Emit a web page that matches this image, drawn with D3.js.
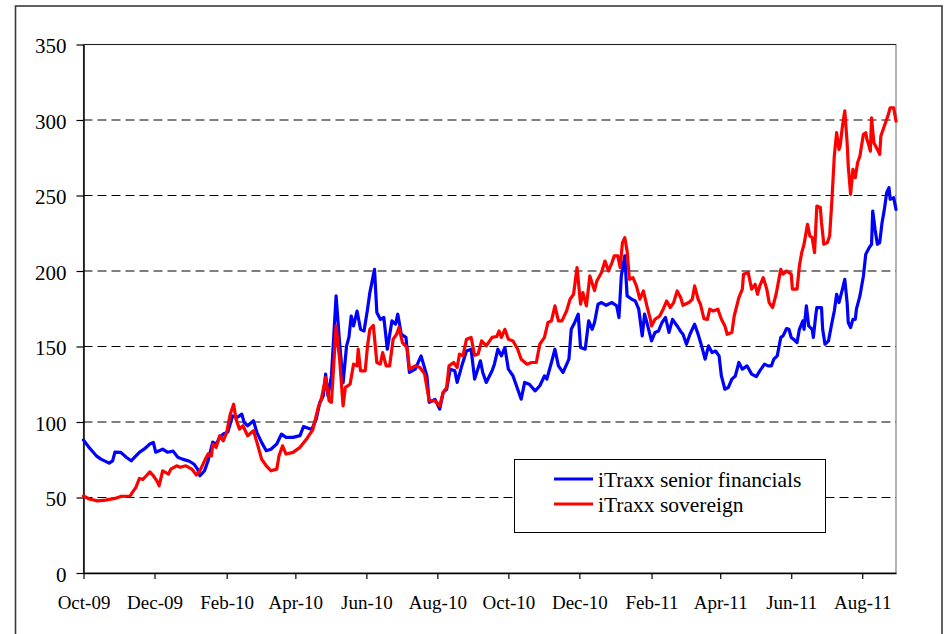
<!DOCTYPE html>
<html><head><meta charset="utf-8">
<script src="https://cdn.jsdelivr.net/npm/d3@7"></script>
<style>html,body{margin:0;padding:0;background:#fff;} svg{display:block;}</style>
</head><body><svg id="chart" width="944" height="634"></svg>
<script>
// ---- DATA ----
const seriesNames = ["iTraxx senior financials", "iTraxx sovereign"];
const seriesColors = ["#0000ff", "#ff0000"];
const yTicks = [0, 50, 100, 150, 200, 250, 300, 350];
const xTickDates = ["2009-10-01","2009-12-01","2010-02-01","2010-04-01","2010-06-01","2010-08-01",
  "2010-10-01","2010-12-01","2011-02-01","2011-04-01","2011-06-01","2011-08-01"];
const xDomain = ["2009-10-01", "2011-08-30"];

const finDates = ["2009-10-01","2009-10-06","2009-10-12","2009-10-16","2009-10-23","2009-10-26","2009-10-28","2009-11-02","2009-11-07","2009-11-11","2009-11-14","2009-11-18","2009-11-22","2009-11-27","2009-11-30","2009-12-02","2009-12-08","2009-12-12","2009-12-17","2009-12-21","2009-12-25","2009-12-31","2010-01-04","2010-01-07","2010-01-09","2010-01-13","2010-01-16","2010-01-20","2010-01-23","2010-01-26","2010-01-29","2010-02-02","2010-02-06","2010-02-10","2010-02-14","2010-02-16","2010-02-19","2010-02-24","2010-02-27","2010-03-03","2010-03-07","2010-03-11","2010-03-16","2010-03-20","2010-03-24","2010-03-30","2010-04-05","2010-04-08","2010-04-15","2010-04-19","2010-04-22","2010-04-25","2010-04-27","2010-04-29","2010-05-02","2010-05-06","2010-05-09","2010-05-12","2010-05-15","2010-05-17","2010-05-19","2010-05-21","2010-05-24","2010-05-27","2010-05-30","2010-06-02","2010-06-04","2010-06-08","2010-06-10","2010-06-13","2010-06-16","2010-06-19","2010-06-23","2010-06-26","2010-06-28","2010-07-01","2010-07-05","2010-07-08","2010-07-13","2010-07-18","2010-07-23","2010-07-25","2010-07-30","2010-08-03","2010-08-06","2010-08-09","2010-08-12","2010-08-16","2010-08-18","2010-08-22","2010-08-26","2010-08-30","2010-09-02","2010-09-07","2010-09-09","2010-09-12","2010-09-17","2010-09-19","2010-09-22","2010-09-25","2010-09-28","2010-10-01","2010-10-05","2010-10-09","2010-10-12","2010-10-15","2010-10-19","2010-10-24","2010-10-28","2010-11-01","2010-11-03","2010-11-07","2010-11-10","2010-11-13","2010-11-17","2010-11-22","2010-11-24","2010-11-27","2010-11-30","2010-12-02","2010-12-06","2010-12-09","2010-12-12","2010-12-14","2010-12-17","2010-12-20","2010-12-24","2010-12-29","2011-01-02","2011-01-04","2011-01-06","2011-01-09","2011-01-11","2011-01-15","2011-01-18","2011-01-21","2011-01-24","2011-01-26","2011-01-28","2011-02-01","2011-02-04","2011-02-07","2011-02-10","2011-02-13","2011-02-16","2011-02-19","2011-02-23","2011-02-26","2011-02-28","2011-03-03","2011-03-06","2011-03-10","2011-03-13","2011-03-16","2011-03-19","2011-03-22","2011-03-25","2011-03-28","2011-03-31","2011-04-02","2011-04-05","2011-04-08","2011-04-11","2011-04-14","2011-04-17","2011-04-20","2011-04-24","2011-04-28","2011-05-02","2011-05-05","2011-05-09","2011-05-12","2011-05-15","2011-05-17","2011-05-20","2011-05-23","2011-05-25","2011-05-28","2011-05-30","2011-06-01","2011-06-03","2011-06-06","2011-06-08","2011-06-11","2011-06-12","2011-06-14","2011-06-16","2011-06-19","2011-06-20","2011-06-22","2011-06-23","2011-06-27","2011-06-28","2011-06-30","2011-07-03","2011-07-06","2011-07-08","2011-07-10","2011-07-12","2011-07-15","2011-07-17","2011-07-19","2011-07-20","2011-07-22","2011-07-24","2011-07-26","2011-07-27","2011-07-30","2011-08-02","2011-08-04","2011-08-07","2011-08-09","2011-08-10","2011-08-12","2011-08-14","2011-08-16","2011-08-18","2011-08-20","2011-08-22","2011-08-24","2011-08-25","2011-08-28","2011-08-30"];
const finValues = [88,83,77.6,75.4,72.8,74.3,80,79.9,76.5,74.3,76.7,79.9,82,85.4,86.5,80,82,80,80.7,76.7,75.4,74,72,68.8,64.4,67.7,74.3,86.7,85.4,89.8,92,93.3,104,103,105.2,99.7,97.5,100.8,93,86.5,81,82,85.4,92,89.8,89.8,91,97,95,102,113,117.3,131.7,117.3,130.5,183.5,152.6,126,150.4,156,170.2,163.6,173.5,161.4,160.3,174.7,185.7,201.1,172.5,168,169.2,148.2,167,164.8,171.4,158.1,156,132.8,135,143.8,130.5,113,115,108.5,119.6,121.7,135,133.9,126.2,137.2,147,148.2,128.4,140.5,132.8,126.2,133.9,138.3,148.2,143.8,149.3,135,130.5,121.7,115.1,126.2,125,120.6,124,130.5,128.4,139.4,148.2,137.2,132.8,141.6,161.4,165.9,171.4,149.3,148.2,167,161.4,165.9,178,179.1,177.3,179.1,177,169.2,196.7,210,183.5,181.3,180.2,174.7,157,171.4,165.9,153.7,159.3,160.3,165.9,169.2,159.3,168,163.6,160,158.1,151.5,158.1,164.8,158.1,150.4,141.6,150.4,146,147,143.8,130.5,121.7,122.9,128.4,130.5,139.4,135,137.2,131.7,130.1,133.9,138.3,137.2,137.2,141.6,143.8,156,157,161.9,161.4,156,154.8,152.6,161.4,167,161.4,176.9,163.6,161.4,156,170.2,175.8,175.8,161.4,151.5,153.7,165.9,173.5,184.6,179.1,188,194.5,179.1,165.9,162.6,168,168,174.7,183.5,196.7,211,215.5,217.7,239.7,227.6,217.7,218.8,232,240.8,251.9,255.2,247.5,248.6,240.8];

const sovDates = ["2009-10-01","2009-10-06","2009-10-13","2009-10-20","2009-10-28","2009-11-02","2009-11-10","2009-11-12","2009-11-15","2009-11-18","2009-11-21","2009-11-24","2009-11-27","2009-11-30","2009-12-03","2009-12-05","2009-12-08","2009-12-13","2009-12-15","2009-12-20","2009-12-23","2009-12-28","2010-01-02","2010-01-06","2010-01-09","2010-01-13","2010-01-16","2010-01-19","2010-01-20","2010-01-23","2010-01-26","2010-01-29","2010-02-01","2010-02-04","2010-02-07","2010-02-09","2010-02-12","2010-02-15","2010-02-19","2010-02-24","2010-02-27","2010-03-03","2010-03-07","2010-03-11","2010-03-16","2010-03-18","2010-03-21","2010-03-24","2010-03-30","2010-04-05","2010-04-10","2010-04-16","2010-04-21","2010-04-23","2010-04-27","2010-04-30","2010-05-02","2010-05-06","2010-05-09","2010-05-12","2010-05-14","2010-05-18","2010-05-21","2010-05-24","2010-05-25","2010-05-27","2010-05-31","2010-06-02","2010-06-04","2010-06-07","2010-06-10","2010-06-13","2010-06-15","2010-06-18","2010-06-21","2010-06-24","2010-06-27","2010-06-29","2010-07-02","2010-07-06","2010-07-08","2010-07-13","2010-07-17","2010-07-21","2010-07-25","2010-07-30","2010-08-03","2010-08-06","2010-08-09","2010-08-11","2010-08-15","2010-08-18","2010-08-20","2010-08-23","2010-08-26","2010-08-30","2010-09-02","2010-09-05","2010-09-08","2010-09-12","2010-09-17","2010-09-21","2010-09-23","2010-09-25","2010-09-28","2010-10-01","2010-10-05","2010-10-09","2010-10-12","2010-10-17","2010-10-21","2010-10-25","2010-10-28","2010-11-01","2010-11-04","2010-11-07","2010-11-10","2010-11-13","2010-11-16","2010-11-20","2010-11-23","2010-11-26","2010-11-29","2010-12-02","2010-12-04","2010-12-07","2010-12-10","2010-12-14","2010-12-16","2010-12-20","2010-12-23","2010-12-26","2010-12-29","2010-12-31","2011-01-03","2011-01-05","2011-01-07","2011-01-09","2011-01-11","2011-01-13","2011-01-16","2011-01-19","2011-01-22","2011-01-25","2011-01-28","2011-01-31","2011-02-01","2011-02-04","2011-02-08","2011-02-11","2011-02-14","2011-02-17","2011-02-20","2011-02-23","2011-02-26","2011-02-28","2011-03-05","2011-03-08","2011-03-10","2011-03-13","2011-03-15","2011-03-18","2011-03-21","2011-03-23","2011-03-26","2011-03-30","2011-04-02","2011-04-05","2011-04-07","2011-04-11","2011-04-13","2011-04-17","2011-04-20","2011-04-21","2011-04-25","2011-04-28","2011-05-01","2011-05-03","2011-05-05","2011-05-08","2011-05-11","2011-05-13","2011-05-16","2011-05-19","2011-05-23","2011-05-25","2011-05-28","2011-06-01","2011-06-02","2011-06-06","2011-06-08","2011-06-10","2011-06-12","2011-06-15","2011-06-17","2011-06-19","2011-06-21","2011-06-23","2011-06-26","2011-06-27","2011-06-29","2011-07-02","2011-07-04","2011-07-06","2011-07-08","2011-07-10","2011-07-12","2011-07-13","2011-07-15","2011-07-17","2011-07-19","2011-07-20","2011-07-22","2011-07-24","2011-07-26","2011-07-28","2011-07-30","2011-08-02","2011-08-04","2011-08-05","2011-08-06","2011-08-08","2011-08-09","2011-08-11","2011-08-14","2011-08-16","2011-08-17","2011-08-20","2011-08-23","2011-08-25","2011-08-28","2011-08-30"];
const sovValues = [51,49,47.8,48.3,49.4,50.7,51,53.4,56.7,62.6,62,64.4,67,64.4,61,57.8,67.7,65.5,68.8,71,70,71,68.8,64.9,67.7,74.3,78.8,77.6,85.4,83.2,90.9,87.5,93,105,111.8,101.9,95.3,97.5,90.9,94.2,86.5,75.4,71,67.7,68.8,77.6,84.2,78.8,79.9,83.2,88,95,110.7,114,129.5,114,113,163.6,141.6,110.7,122.9,125,138.3,137.2,148.2,133.9,133.9,150.4,161.4,164,139.4,138.3,146,137.2,137.2,154.8,158.1,162.6,152.6,149.3,135,137.2,136.1,132,114,114,110.7,119.6,122.9,137.2,139.4,136.1,145,143.8,154.8,156,144.2,145,153.7,150.4,156,156.6,160.3,156,161.4,154.8,153.7,148.2,141.6,138.3,139.4,139.4,151.5,156,165.9,167,176.9,167,167,173.5,181.3,184.6,202.3,178,185.7,176.9,196.7,187,193.4,199,206.6,200,205.6,210,210,202.3,218.8,222.1,213.3,194.5,195.6,190.1,181.3,186.8,176.9,168,163.6,168,170.2,174.7,180.2,175.8,179.1,186.8,182.4,177.3,179.1,181.3,190.1,181.3,178,168.5,168,174.7,173.5,174.7,168,163.6,158.1,159.3,170.2,182.4,188,197.9,199,188,191.2,184.6,190.1,195.6,188,179.1,175.8,184.6,201.1,197.9,200,197.9,188,188,203.3,212.2,217.7,230.9,223.2,222.1,212.2,243,242,232,217.7,218.8,223.2,247.8,276.2,291.6,280.5,282.7,296,306,285,269.5,250.8,267.3,261.8,271.7,276.2,290.5,291.6,287.2,285,279.4,301.5,285,280.5,277.2,289.4,296,302.6,308.1,308.1,299.3];

// ---- CHART ----
const parse = d3.timeParse("%Y-%m-%d");
const svg = d3.select("#chart");
const L = 83.5, R = 896, T = 44.5, B = 573;
const FONT = "'Liberation Serif','Times New Roman',serif";

const x = d3.scaleTime().domain(xDomain.map(parse)).range([L, R]);
const y = d3.scaleLinear().domain([0, 350]).range([B, T]);

// outer frame
svg.append("rect").attr("x", 15.5).attr("y", 6).attr("width", 926.5).attr("height", 700)
  .attr("fill", "#fff").attr("stroke", "#3a3a3a").attr("stroke-width", 1.6);

// plot border
svg.append("rect").attr("x", L).attr("y", T).attr("width", R - L).attr("height", B - T)
  .attr("fill", "none").attr("stroke", "#808080").attr("stroke-width", 1.2);

// gridlines
svg.append("g").selectAll("line").data(yTicks.filter(v => v > 0 && v < 350)).join("line")
  .attr("x1", L).attr("x2", R).attr("y1", d => y(d)).attr("y2", d => y(d))
  .attr("stroke", "#000").attr("stroke-width", 1).attr("stroke-dasharray", "9,5");
svg.append("line").attr("x1", L).attr("x2", R).attr("y1", y(350)).attr("y2", y(350))
  .attr("stroke", "#222").attr("stroke-width", 1.2);

// y axis
const yAxis = svg.append("g").attr("transform", `translate(${L},0)`)
  .call(d3.axisLeft(y).tickValues(yTicks).tickSize(7).tickSizeOuter(0).tickPadding(10));
yAxis.select(".domain").attr("stroke", "#000").attr("stroke-width", 1.5);
yAxis.selectAll(".tick line").attr("stroke", "#000").attr("stroke-width", 1.2);
yAxis.selectAll("text").attr("font-family", FONT).attr("font-size", 21).attr("fill", "#000").attr("dy", "0.4em");

// x axis
const xAxis = svg.append("g").attr("transform", `translate(0,${B})`)
  .call(d3.axisBottom(x).tickValues(xTickDates.map(parse)).tickFormat(d3.timeFormat("%b-%y"))
    .tickSize(6).tickSizeOuter(0).tickPadding(17));
xAxis.select(".domain").attr("stroke", "#000").attr("stroke-width", 1.5);
xAxis.selectAll(".tick line").attr("stroke", "#000").attr("stroke-width", 1.2);
xAxis.selectAll("text").attr("font-family", FONT).attr("font-size", 19).attr("fill", "#000");

// lines
const series = [
  finDates.map((d, i) => ({date: parse(d), value: finValues[i]})),
  sovDates.map((d, i) => ({date: parse(d), value: sovValues[i]}))
];
const line = d3.line().x(d => x(d.date)).y(d => y(d.value));
series.forEach((s, i) => {
  svg.append("path").datum(s).attr("d", line).attr("fill", "none")
    .attr("stroke", seriesColors[i]).attr("stroke-width", 3.2)
    .attr("stroke-linejoin", "round").attr("stroke-linecap", "round");
});

// legend
const lg = svg.append("g");
lg.append("rect").attr("x", 514.5).attr("y", 459.5).attr("width", 311).attr("height", 73)
  .attr("fill", "#fff").attr("stroke", "#000").attr("stroke-width", 1);
seriesNames.forEach((name, i) => {
  const yy = 479 + i * 25;
  lg.append("line").attr("x1", 554).attr("x2", 593).attr("y1", yy).attr("y2", yy)
    .attr("stroke", seriesColors[i]).attr("stroke-width", 3);
  lg.append("text").attr("x", 598).attr("y", yy + 7.5).text(name)
    .attr("font-family", FONT).attr("font-size", 21.5).attr("fill", "#000");
});
</script>
</body></html>
